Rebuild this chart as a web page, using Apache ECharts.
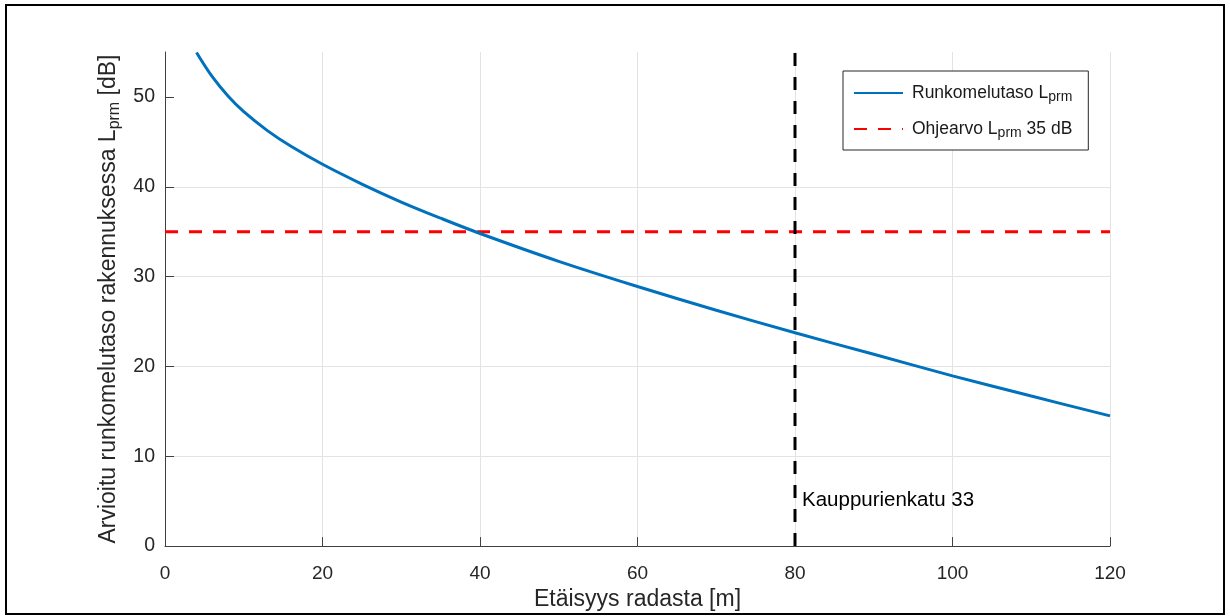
<!DOCTYPE html>
<html>
<head>
<meta charset="utf-8">
<script src="https://cdn.jsdelivr.net/npm/echarts@6/dist/echarts.min.js"></script>
<style>
    html, body { margin: 0; padding: 0; background: #fff; }
    #chart { width: 1230px; height: 616px; }
</style>
</head>
<body>
<div id="chart"></div>
<script>
    // luettu kuvasta
    var distance = [4, 6, 8, 10, 13, 16, 20, 25, 30, 35, 40, 50, 60, 70, 80, 90, 100, 110, 120];
    var level = [54.95, 52.25, 50.1, 48.35, 46.25, 44.5, 42.5, 40.3, 38.3, 36.5, 34.8, 31.7, 28.9, 26.25, 23.75, 21.35, 18.95, 16.7, 14.5];
    var limitX = [0, 120];
    var limitY = [35, 35];
    var streetX = [80, 80];
    var streetY = [0, 55];
    var xTicks = [0, 20, 40, 60, 80, 100, 120];
    var yTicks = [0, 10, 20, 30, 40, 50];

    var axisColor = '#404040';
    var font = 'Liberation Sans, Arial, sans-serif';

    var legendText = {
        'Runkomelutaso Lprm': '{t|Runkomelutaso L}{s|prm}',
        'Ohjearvo Lprm 35 dB': '{t|Ohjearvo L}{s|prm}{t| 35 dB}'
    };

    function pairs(xs, ys) {
        var out = [];
        for (var i = 0; i < xs.length; i++) out.push([xs[i], ys[i]]);
        return out;
    }

    var chart = echarts.init(document.getElementById('chart'));
    chart.setOption({
        animation: false,
        backgroundColor: '#fff',
        textStyle: { fontFamily: font },
        grid: { left: 165, right: 120, top: 52, bottom: 68 },
        graphic: [{
            type: 'rect',
            shape: { x: 6, y: 5, width: 1218, height: 609 },
            style: { fill: 'none', stroke: '#000', lineWidth: 2 },
            z: 100
        }],
        legend: {
            orient: 'vertical',
            left: 843,
            top: 71,
            padding: [13, 16, 10, 10],
            itemWidth: 49,
            itemHeight: 18,
            itemGap: 16,
            backgroundColor: '#fff',
            borderColor: '#262626',
            borderWidth: 1,
            borderRadius: 0,
            itemStyle: { opacity: 0 },
            data: ['Runkomelutaso Lprm', 'Ohjearvo Lprm 35 dB'],
            formatter: function (name) { return legendText[name]; },
            textStyle: {
                padding: [0, 0, 0, 4],
                rich: {
                    t: { fontFamily: font, fontSize: 17.5, color: '#1a1a1a', lineHeight: 22 },
                    s: { fontFamily: font, fontSize: 14, color: '#1a1a1a', lineHeight: 14, verticalAlign: 'bottom' }
                }
            }
        },
        xAxis: {
            type: 'value',
            min: 0,
            max: 120,
            interval: 20,
            name: 'Etäisyys radasta [m]',
            nameLocation: 'middle',
            nameGap: 41,
            nameTextStyle: { fontFamily: font, fontSize: 23, color: '#262626' },
            axisLine: { show: true, onZero: false, lineStyle: { color: axisColor, width: 1 } },
            axisTick: { show: true, inside: true, length: 9, lineStyle: { color: axisColor } },
            axisLabel: { fontFamily: font, fontSize: 19, color: '#262626', margin: 18, customValues: xTicks },
            splitLine: { show: true, lineStyle: { color: '#e3e3e3', width: 1 } }
        },
        yAxis: {
            type: 'value',
            min: 0,
            max: 55,
            interval: 10,
            name: '{t|Arvioitu runkomelutaso rakennuksessa L}{s|prm}{t| [dB]}',
            nameLocation: 'middle',
            nameGap: 42,
            nameTextStyle: {
                rich: {
                    t: { fontFamily: font, fontSize: 23, color: '#262626', lineHeight: 27 },
                    s: { fontFamily: font, fontSize: 16, color: '#262626', lineHeight: 16, verticalAlign: 'bottom' }
                }
            },
            axisLine: { show: true, onZero: false, lineStyle: { color: axisColor, width: 1 } },
            axisTick: { show: true, inside: true, length: 9, customValues: yTicks, lineStyle: { color: axisColor } },
            axisLabel: { fontFamily: font, fontSize: 19.5, color: '#262626', margin: 10, customValues: yTicks },
            splitLine: { show: true, showMaxLine: false, lineStyle: { color: '#e3e3e3', width: 1 } }
        },
        series: [
            {
                name: 'Runkomelutaso Lprm',
                type: 'line',
                data: pairs(distance, level),
                smooth: 0.35,
                symbol: 'none',
                lineStyle: { color: '#0072BD', width: 3 },
                itemStyle: { color: '#0072BD' },
                z: 3
            },
            {
                name: 'Ohjearvo Lprm 35 dB',
                type: 'line',
                data: pairs(limitX, limitY),
                symbol: 'none',
                lineStyle: { color: '#ff0000', width: 3, type: [13, 11] },
                itemStyle: { color: '#ff0000' },
                z: 2
            },
            {
                name: 'Kauppurienkatu 33',
                type: 'line',
                data: pairs(streetX, streetY),
                symbol: 'none',
                lineStyle: { color: '#000', width: 3, type: [13, 11] },
                itemStyle: { color: '#000' },
                z: 2,
                markPoint: {
                    symbol: 'circle',
                    symbolSize: 0,
                    data: [{ coord: [80, 5.1] }],
                    label: {
                        show: true,
                        position: 'right',
                        distance: 7,
                        formatter: 'Kauppurienkatu 33',
                        fontFamily: font,
                        fontSize: 20.5,
                        color: '#000'
                    }
                }
            }
        ]
    });
</script>
</body>
</html>
